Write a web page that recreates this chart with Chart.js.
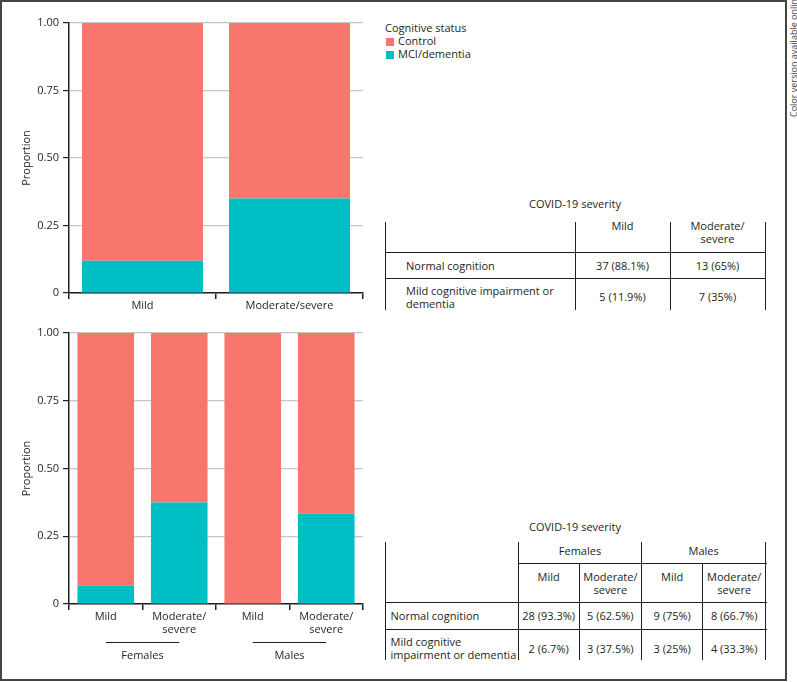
<!DOCTYPE html>
<html>
<head>
<meta charset="utf-8">
<script src="https://cdn.jsdelivr.net/npm/chart.js@4"></script>
<style>
  body { margin: 0; background: #fff; width: 797px; height: 682px; overflow: hidden; position: relative; font-family: 'Open Sans', sans-serif; color: #231f20; }
  canvas { position: absolute; left: 0; }
  #frame { position: absolute; left: 0; top: 0; width: 787px; height: 681px; border: 2px solid #444; box-sizing: border-box; }
  .t { position: absolute; font-size: 11px; line-height: 12.7px; white-space: pre; }
  .ln { position: absolute; background: #231f20; }
  .sw { position: absolute; width: 8px; height: 8px; }
  #note { position: absolute; left: 788px; top: 117px; font-size: 9px; line-height: 11px; color: #444; white-space: pre; transform-origin: 0 0; transform: rotate(-90deg); }
</style>
</head>
<body>
<div id="frame"></div>
<canvas id="topChart" width="375" height="320" style="top:0"></canvas>
<canvas id="bottomChart" width="375" height="362" style="top:320px"></canvas>
<div id="layer"></div>
<div id="note">Color version available online</div>

<script>
// DATA
const seriesNames = ['Control', 'MCI/dementia'];
const seriesColors = ['#F8766D', '#00BFC4'];
const legendTitle = 'Cognitive status';

// top panel: all participants
const topCategories = ['Mild', 'Moderate/severe'];
const topControl = [0.881, 0.65];
const topMCI = [0.119, 0.35];

// bottom panel: by sex
const bottomCategories = ['Mild', ['Moderate/', 'severe'], 'Mild', ['Moderate/', 'severe']];
const bottomGroups = ['Females', 'Males'];
const bottomControl = [0.933, 0.625, 1, 0.667];
const bottomMCI = [0.067, 0.375, 0, 0.333];

const yTicks = [0, 0.25, 0.5, 0.75, 1];
const yTitle = 'Proportion';

// tables
const tableTitle = 'COVID-19 severity';
const table1Cols = ['Mild', 'Moderate/\nsevere'];
const table1Rows = ['Normal cognition', 'Mild cognitive impairment or\ndementia'];
const table1Values = [['37 (88.1%)', '13 (65%)'], ['5 (11.9%)', '7 (35%)']];

const table2Groups = ['Females', 'Males'];
const table2Cols = ['Mild', 'Moderate/\nsevere', 'Mild', 'Moderate/\nsevere'];
const table2Rows = ['Normal cognition', 'Mild cognitive\nimpairment or dementia'];
const table2Values = [
  ['28 (93.3%)', '5 (62.5%)', '9 (75%)', '8 (66.7%)'],
  ['2 (6.7%)', '3 (37.5%)', '3 (25%)', '4 (33.3%)']
];

// CHARTS
const FONT = { family: "'Open Sans', sans-serif", size: 11 };
const INK = '#231f20';

// group labels under the bottom x axis
const groupPlugin = {
  id: 'groups',
  afterDraw(chart) {
    const xs = chart.scales.x;
    const ctx = chart.ctx;
    const y0 = chart.chartArea.bottom;
    ctx.save();
    ctx.strokeStyle = INK;
    ctx.lineWidth = 1;
    ctx.fillStyle = INK;
    ctx.font = "11px 'Open Sans', sans-serif";
    ctx.textAlign = 'center';
    ctx.textBaseline = 'middle';
    bottomGroups.forEach((g, i) => {
      const a = xs.getPixelForValue(i * 2);
      const b = xs.getPixelForValue(i * 2 + 1);
      ctx.beginPath();
      ctx.moveTo(a, y0 + 38.5);
      ctx.lineTo(b, y0 + 38.5);
      ctx.stroke();
      ctx.fillText(g, (a + b) / 2, y0 + 52);
    });
    ctx.restore();
  }
};

function makeChart(id, labels, control, mci, opts) {
  return new Chart(document.getElementById(id), {
    type: 'bar',
    data: {
      labels: labels,
      datasets: [
        { label: seriesNames[1], data: mci, backgroundColor: seriesColors[1], borderWidth: 0,
          barPercentage: opts.barPct, categoryPercentage: 1 },
        { label: seriesNames[0], data: control, backgroundColor: seriesColors[0], borderWidth: 0,
          barPercentage: opts.barPct, categoryPercentage: 1 }
      ]
    },
    options: {
      responsive: false,
      maintainAspectRatio: false,
      animation: false,
      layout: { padding: { top: opts.padTop, right: 12, left: 0, bottom: 0 } },
      plugins: { legend: { display: false }, tooltip: { enabled: false } },
      scales: {
        x: {
          stacked: true,
          afterFit: (s) => { s.height = opts.xHeight; },
          grid: { drawOnChartArea: false, offset: true, tickLength: 6, tickColor: INK, lineWidth: 1.5 },
          border: { color: INK, width: 1.5 },
          ticks: { font: FONT, color: INK, padding: 0, maxRotation: 0, autoSkip: false }
        },
        y: {
          stacked: true,
          min: 0,
          max: 1,
          afterFit: (s) => { s.width = 69; },
          afterBuildTicks: (s) => { s.ticks = yTicks.map(v => ({ value: v })); },
          grid: { color: '#c6c6c6', lineWidth: 1.2, tickColor: INK, tickLength: 6 },
          border: { color: INK, width: 1.5 },
          ticks: { font: FONT, color: INK, padding: 4,
                   callback: (v) => v === 0 ? '0' : v.toFixed(2) },
          title: { display: true, text: yTitle, font: FONT, color: INK, padding: { top: 20, bottom: 0 } }
        }
      }
    },
    plugins: opts.plugins || []
  });
}

makeChart('topChart', topCategories, topControl, topMCI,
  { barPct: 0.823, padTop: 23, xHeight: 27 });
makeChart('bottomChart', bottomCategories, bottomControl, bottomMCI,
  { barPct: 0.77, padTop: 13, xHeight: 78, plugins: [groupPlugin] });

// LEGEND AND TABLES (html)
const layer = document.getElementById('layer');
const LH = 12.7;

function addText(str, x, y, align) {
  const d = document.createElement('div');
  d.className = 't';
  d.textContent = str;
  d.style.top = (y - LH / 2) + 'px';
  d.style.left = x + 'px';
  if (align === 'center') {
    d.style.transform = 'translateX(-50%)';
    d.style.textAlign = 'center';
  }
  layer.appendChild(d);
}
function hLine(x1, x2, y) {
  const d = document.createElement('div');
  d.className = 'ln';
  Object.assign(d.style, { left: x1 + 'px', top: (y - 0.5) + 'px', width: (x2 - x1 + 1) + 'px', height: '1px' });
  layer.appendChild(d);
}
function vLine(x, y1, y2) {
  const d = document.createElement('div');
  d.className = 'ln';
  Object.assign(d.style, { left: (x - 0.5) + 'px', top: y1 + 'px', width: '1px', height: (y2 - y1) + 'px' });
  layer.appendChild(d);
}

// legend
addText(legendTitle, 385, 28);
seriesNames.forEach((name, i) => {
  const sw = document.createElement('div');
  sw.className = 'sw';
  sw.style.left = '386px';
  sw.style.top = (37.5 + i * 13) + 'px';
  sw.style.background = seriesColors[i];
  layer.appendChild(sw);
  addText(name, 398, 41.5 + i * 13);
});

// table 1
(function () {
  const edges = [385, 575, 670, 765];
  const top = 222, headBottom = 252, rowLine = 278.5, bottom = 310;
  addText(tableTitle, 575, 204.5, 'center');
  edges.forEach(x => vLine(x, top, bottom));
  hLine(edges[0], edges[3], headBottom);
  hLine(edges[0], edges[3], rowLine);
  table1Cols.forEach((c, i) => addText(c, (edges[i + 1] + edges[i + 2]) / 2, 226.5, 'center'));
  const rowY = [266, 297.5];
  table1Rows.forEach((r, j) => {
    const lines = r.split('\n').length;
    addText(r, 406, rowY[j] - (lines - 1) * LH / 2);
    table1Values[j].forEach((v, i) => addText(v, (edges[i + 1] + edges[i + 2]) / 2, rowY[j], 'center'));
  });
})();

// table 2
(function () {
  const edges = [385, 518.3, 579, 641.7, 702.7, 765.7];
  const top = 541.7, groupLine = 563.3, headBottom = 602.3, rowLine = 629, bottom = 660;
  addText(tableTitle, 575, 527.7, 'center');
  [0, 1, 3, 5].forEach(k => vLine(edges[k], top, bottom));
  [2, 4].forEach(k => vLine(edges[k], groupLine, bottom));
  hLine(edges[1], edges[5], groupLine);
  hLine(edges[0], edges[5], headBottom);
  hLine(edges[0], edges[5], rowLine);
  table2Groups.forEach((g, i) => addText(g, (edges[1 + i * 2] + edges[3 + i * 2]) / 2, 551.7, 'center'));
  table2Cols.forEach((c, i) => addText(c, (edges[i + 1] + edges[i + 2]) / 2, 577.5, 'center'));
  const rowY = [616.7, 649];
  table2Rows.forEach((r, j) => {
    const lines = r.split('\n').length;
    addText(r, 390.5, rowY[j] - (lines - 1) * LH / 2);
    table2Values[j].forEach((v, i) => addText(v, (edges[i + 1] + edges[i + 2]) / 2, rowY[j], 'center'));
  });
})();
</script>
</body>
</html>
